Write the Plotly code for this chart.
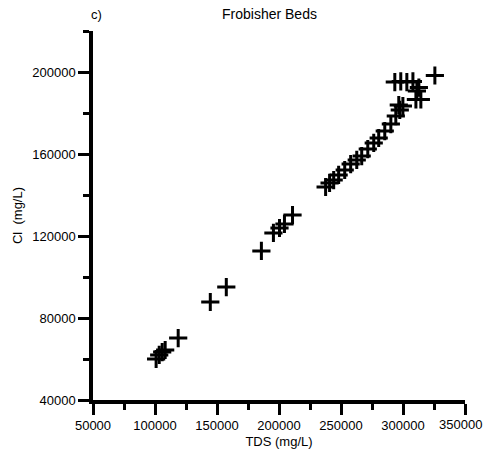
import plotly.graph_objects as go

# Data (TDS vs Cl, mg/L)
tds = [100900, 103400, 105800, 108200, 118700, 144600, 157500, 185800,
       195500, 200400, 204400, 210900,
       237600, 240800, 244100, 248100, 253000, 257800, 262700, 266700,
       271600, 276400, 280400, 285300, 290200, 294200, 297400, 299900,
       296600, 293400, 298200, 303100, 308000, 325700, 312800, 311200,
       310400, 314400]
cl = [60000, 62000, 63400, 64400, 70200, 87800, 95100, 112700,
      121500, 123900, 125900, 130200,
      143900, 145900, 147300, 149800, 152200, 155100, 157100, 159000,
      162400, 165400, 167800, 171200, 174600, 178500, 181500, 183400,
      183900, 195100, 195400, 195100, 195400, 198300, 192400, 190700,
      186600, 186600]

x_ticks = [50000, 100000, 150000, 200000, 250000, 300000, 350000]
y_ticks = [40000, 80000, 120000, 160000, 200000]

TICKFONT = dict(family="Liberation Sans, Arial", size=13, color="black")

fig = go.Figure()
fig.add_trace(go.Scatter(
    x=tds, y=cl, mode="markers",
    marker=dict(symbol="cross-thin", size=13, color="black",
                line=dict(color="black", width=3)),
    showlegend=False, cliponaxis=False,
))

axis_common = dict(
    showgrid=False, zeroline=False, showline=True, linecolor="black",
    linewidth=3.5, ticks="outside", ticklen=11, tickwidth=3, tickcolor="black",
    tickfont=TICKFONT, mirror=False, automargin=False,
)

# last x label is placed as an annotation so it stays inside the page edge
x_text = [str(v) for v in x_ticks[:-1]] + [""]

fig.update_xaxes(
    range=[50000, 350000], tickvals=x_ticks, ticktext=x_text,
    minor=dict(ticks="outside", ticklen=6, tickwidth=2.5, tickcolor="black", dtick=25000, tick0=50000),
    title=dict(text="TDS (mg/L)", font=dict(family="Liberation Sans, Arial", size=13, color="black"), standoff=6),
    **axis_common,
)
fig.update_yaxes(
    range=[40000, 220000], tickvals=y_ticks, ticktext=[str(v) for v in y_ticks],
    minor=dict(ticks="outside", ticklen=6, tickwidth=2.5, tickcolor="black", dtick=20000, tick0=40000),
    title=dict(text="Cl  (mg/L)", font=dict(family="Liberation Sans, Arial", size=13, color="black"), standoff=8),
    **axis_common,
)

pw = 484 - 93 - 19
ph = 457 - 31 - 57


def px2paper(px, py):
    return (px - 93) / pw, 1 + (31 - py) / ph


annots = []
for text, px, py, size, xa in [("Frobisher Beds", 269, 14, 14, "center"),
                               ("c)", 96, 14, 13, "center")]:
    ax, ay = px2paper(px, py)
    annots.append(dict(text=text, x=ax, y=ay, xref="paper", yref="paper",
                       xanchor=xa, yanchor="middle", showarrow=False,
                       font=dict(family="Liberation Sans, Arial", size=size, color="black")))

annots.append(dict(text=str(x_ticks[-1]), x=1.0, xref="paper", xshift=19,
                   y=0, yref="paper", yshift=-15, xanchor="right", yanchor="top",
                   showarrow=False, font=TICKFONT))

fig.update_layout(
    width=484, height=457,
    margin=dict(l=93, r=19, t=31, b=57, autoexpand=False),
    plot_bgcolor="white", paper_bgcolor="white",
    annotations=annots,
)

fig.write_html("out.html")
